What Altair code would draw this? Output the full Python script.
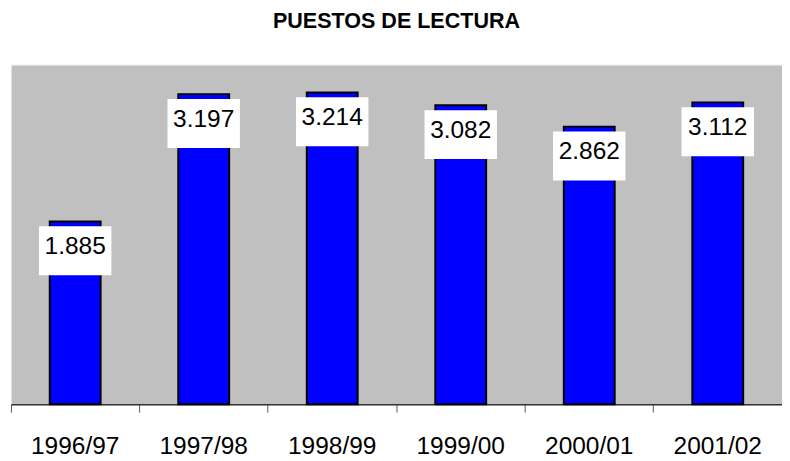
import altair as alt
import pandas as pd

years = ["1996/97", "1997/98", "1998/99", "1999/00", "2000/01", "2001/02"]
values = [1885, 3197, 3214, 3082, 2862, 3112]
labels = ["1.885", "3.197", "3.214", "3.082", "2.862", "3.112"]

df = pd.DataFrame({"year": years, "value": values, "label": labels})

FONT = "Liberation Sans"

x = alt.X(
    "year:N",
    sort=years,
    scale=alt.Scale(paddingInner=0, paddingOuter=0),
    axis=alt.Axis(
        title=None,
        bandPosition=0,
        labelAngle=0,
        labelFont=FONT,
        labelFontSize=25,
        labelColor="#000000",
        labelPadding=22,
        tickSize=8,
        tickColor="#555555",
        domainColor="#333333",
        domainWidth=1.5,
        grid=False,
    ),
)
y = alt.Y(
    "value:Q",
    scale=alt.Scale(domain=[0, 3500], nice=False, zero=True),
    axis=None,
)

base = alt.Chart(df)

bars = base.mark_bar(
    color="#0000FF", stroke="#000000", strokeWidth=2, width=52
).encode(x=x, y=y)

boxes = base.mark_bar(
    color="#FFFFFF", width=74, yOffset=5, y2Offset=55
).encode(x=x, y=y, y2="value:Q")

texts = base.mark_text(
    font=FONT, fontSize=25, color="#000000", baseline="middle", dy=25.5
).encode(x=x, y=y, text="label:N")

chart = (
    alt.layer(bars, boxes, texts)
    .properties(
        width=788,
        height=347,
        title=alt.TitleParams(
            "PUESTOS DE LECTURA",
            font=FONT,
            fontSize=22,
            fontWeight="bold",
            color="#000000",
            anchor="middle",
            baseline="alphabetic",
            offset=16,
        ),
        view=alt.ViewBackground(fill="#C0C0C0", stroke="#E0E0E0", strokeWidth=1),
        autosize=alt.AutoSizeParams(type="none"),
        padding={"left": 3, "top": 53, "right": 0, "bottom": 53},
    )
    .configure(background="#FFFFFF")
)

chart.save("out.html", embed_options={"renderer": "svg", "actions": False})
